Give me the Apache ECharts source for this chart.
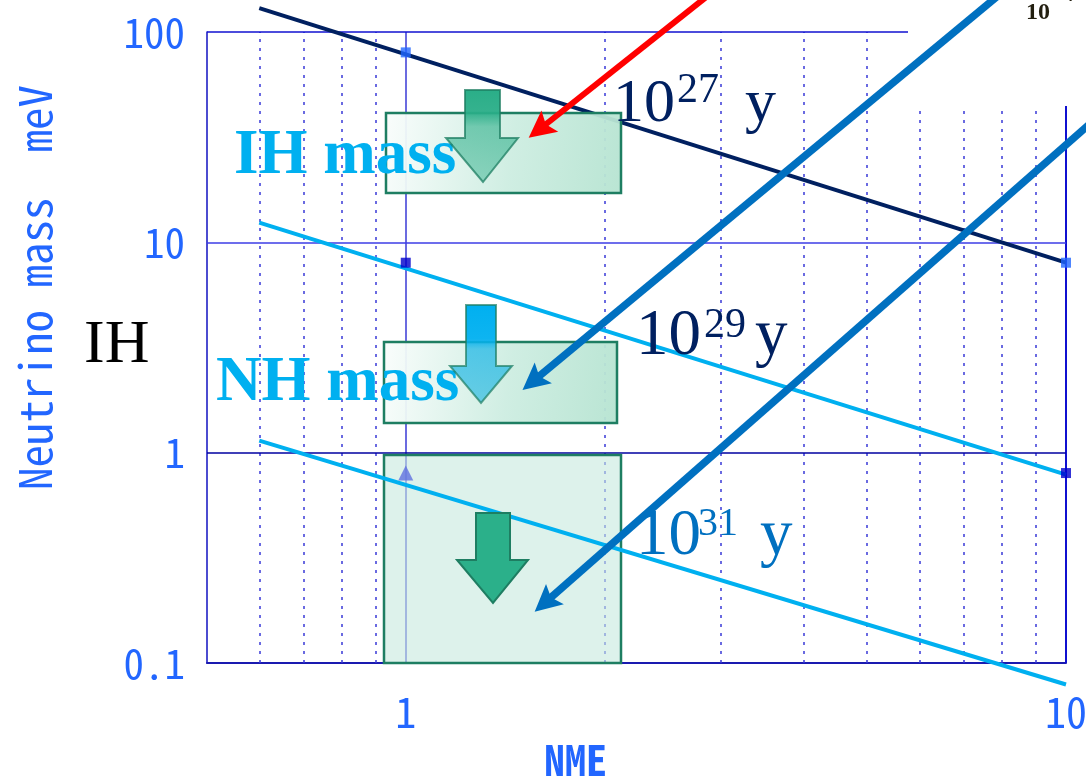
<!DOCTYPE html>
<html><head><meta charset="utf-8">
<script src="https://cdn.jsdelivr.net/npm/echarts@6/dist/echarts.min.js"></script>
<style>html,body{margin:0;padding:0;background:#fff;} #c{width:1086px;height:782px;}</style>
</head><body><div id="c"></div>
<script>
// ---- data ----
const nmeRange = [0.6, 10];          // NME extent of the half-life lines
const line27 = [130, 8.0];           // 10^27 y
const line29 = [12.4, 0.786];        // 10^29 y
const line31 = [1.14, 0.079];        // 10^31 y
const markNME = [1, 10];
const marks27 = [80, 8];
const marks29 = [8, 0.8];
const marks31 = [0.8];
const xTicks = [1, 10];
const yTicks = [0.1, 1, 10, 100];
const minorGridX = [0.6, 0.7, 0.8, 0.9, 2, 3, 4, 5, 6, 7, 8, 9];
const majorGridX = [1, 10];
const gridY = [100, 10, 1];
// annotation arrows [from, to] in data units (NME, meV); "to" is the arrowhead centre
const arrowTo29 = [[8.43, 176.7], [1.558, 2.18]];
const arrowTo31 = [[11.26, 40.3], [1.624, 0.193]];
const arrowRed  = [[3.006, 167.3], [1.593, 34.4]];

const monoFont = "'Noto Sans Mono CJK JP', 'Noto Sans CJK JP', monospace";
const serif = "'Liberation Serif', 'DejaVu Serif', serif";
const lblColor = '#2266ff';
const headPath = 'path://M12,0 L24,26 L12,21 L0,26 Z';

function fmt(ticks) {
  return function (v) {
    const t = ticks.find(t => Math.abs(Math.log10(t) - Math.log10(v)) < 1e-6);
    return t === undefined ? '' : String(t);
  };
}
function pair(xs, ys) { return xs.map((x, i) => [x, ys[i]]); }

const chart = echarts.init(document.getElementById('c'), null, {renderer: 'canvas'});

const gridLines = [];
minorGridX.forEach(v => gridLines.push({xAxis: v, lineStyle: {color: '#3a3ad8', width: 1.5, type: [3, 6]}}));
majorGridX.forEach((v, i) => gridLines.push({xAxis: v, lineStyle: {color: i === 0 ? '#6b6be0' : '#1010d0', width: 2, type: 'solid'}}));
const yLineColors = ['#1010d0', '#3c3ce6', '#0000a0'];
gridY.forEach((v, i) => gridLines.push({yAxis: v, lineStyle: {color: yLineColors[i], width: 1.5, type: 'solid'}}));

function arrowSeries(coords, color, width, size) {
  return {
    type: 'lines', coordinateSystem: 'cartesian2d', clip: false, z: 7, silent: true,
    symbol: ['none', headPath], symbolSize: [0, size], symbolKeepAspect: true,
    itemStyle: {color: color},
    lineStyle: {color: color, width: width, opacity: 1, curveness: 0},
    data: [{coords: coords}]
  };
}

const option = {
  animation: false,
  backgroundColor: '#fff',
  grid: {left: 207, top: 32, right: 20, bottom: 119, show: false, containLabel: false, outerBoundsMode: 'none'},
  xAxis: {
    type: 'log', logBase: 10, min: 0.5, max: 10,
    name: 'NME', nameLocation: 'middle', nameGap: 76,
    nameTextStyle: {fontFamily: monoFont, fontSize: 42, fontWeight: 'bold', color: lblColor, padding: [0, 122, 0, 0]},
    axisLine: {show: true, lineStyle: {color: '#1a1ab0', width: 2}},
    axisTick: {show: false}, splitLine: {show: false}, minorTick: {show: false},
    axisLabel: {formatter: fmt(xTicks), fontFamily: monoFont, fontSize: 42, color: lblColor, margin: 28, showMinLabel: true, showMaxLabel: true}
  },
  yAxis: {
    type: 'log', logBase: 10, min: 0.1, max: 100,
    name: 'Neutrino mass  meV', nameLocation: 'middle', nameRotate: 90, nameGap: 150,
    nameTextStyle: {fontFamily: monoFont, fontSize: 45, color: lblColor, padding: [0, 0, 0, 120]},
    axisLine: {show: true, lineStyle: {color: '#1010c0', width: 1.5}},
    axisTick: {show: false}, splitLine: {show: false},
    axisLabel: {formatter: fmt(yTicks), fontFamily: monoFont, fontSize: 41, color: lblColor, margin: 22}
  },
  series: [
    {type: 'line', data: [], z: 1, silent: true,
     markLine: {silent: true, z: 1, symbol: 'none', label: {show: false}, animation: false, data: gridLines}},
    {type: 'line', name: '10^27 y', data: pair(nmeRange, line27), clip: false, showSymbol: false, symbol: 'none', z: 3,
     lineStyle: {color: '#002060', width: 4}},
    {type: 'line', name: '10^29 y', data: pair(nmeRange, line29), clip: false, showSymbol: false, symbol: 'none', z: 3,
     lineStyle: {color: '#00b0f0', width: 4}},
    {type: 'line', name: '10^31 y', data: pair(nmeRange, line31), clip: false, showSymbol: false, symbol: 'none', z: 3,
     lineStyle: {color: '#00b0f0', width: 4}},
    {type: 'scatter', data: pair(markNME, marks27), symbol: 'rect', symbolSize: 10, clip: false, z: 4,
     itemStyle: {color: '#2266ff'}},
    {type: 'scatter', data: pair(markNME, marks29), symbol: 'rect', symbolSize: 10, clip: false, z: 4,
     itemStyle: {color: '#0000cc'}},
    {type: 'scatter', data: pair(markNME.slice(0, 1), marks31), symbol: 'triangle', symbolSize: 15, clip: false, z: 4,
     itemStyle: {color: '#6070e0'}},
    arrowSeries(arrowTo29, '#0070c0', 7.5, 27),
    arrowSeries(arrowTo31, '#0070c0', 7.5, 27),
    arrowSeries(arrowRed, '#ff0000', 6, 27)
  ],
  graphic: {elements: [
    // cover patch (top-right)
    {type: 'rect', z: 2, silent: true, shape: {x: 908, y: 0, width: 178, height: 106}, style: {fill: '#ffffff'}},
    // lower box (0.1-1)
    {type: 'rect', z: 2, silent: true, shape: {x: 384, y: 455, width: 237, height: 208},
     style: {fill: 'rgba(198,234,221,0.6)', stroke: '#1e7e62', lineWidth: 2.5}},
    // IH mass box
    {type: 'rect', z: 5, silent: true, shape: {x: 386, y: 113, width: 235, height: 80},
     style: {fill: new echarts.graphic.LinearGradient(0, 0, 1, 0.4, [
       {offset: 0, color: 'rgba(250,253,252,0.95)'}, {offset: 0.55, color: 'rgba(205,237,225,0.95)'}, {offset: 1, color: 'rgba(183,228,210,0.95)'}]),
       stroke: '#1e7e62', lineWidth: 2.5}},
    // NH mass box
    {type: 'rect', z: 5, silent: true, shape: {x: 384, y: 342, width: 233, height: 81},
     style: {fill: new echarts.graphic.LinearGradient(0, 0, 1, 0.4, [
       {offset: 0, color: 'rgba(250,253,252,0.95)'}, {offset: 0.55, color: 'rgba(205,237,225,0.95)'}, {offset: 1, color: 'rgba(183,228,210,0.95)'}]),
       stroke: '#1e7e62', lineWidth: 2.5}},
    // texts
    {type: 'text', z: 5, silent: true, x: 234, y: 157, style: {text: 'IH mass', font: 'bold 63px ' + serif, fill: '#00b0f0', align: 'left', verticalAlign: 'middle'}},
    {type: 'text', z: 5, silent: true, x: 216, y: 384, style: {text: 'NH mass', font: 'bold 63px ' + serif, fill: '#00b0f0', align: 'left', verticalAlign: 'middle'}},
    {type: 'text', z: 5, silent: true, x: 84, y: 346, style: {text: 'IH', font: '62px ' + serif, fill: '#000000', align: 'left', verticalAlign: 'middle'}},
    // block arrows
    {type: 'polygon', z: 6, silent: true,
     shape: {points: [[465, 90], [500, 90], [500, 138], [518, 138], [483, 182], [446, 138], [465, 138]]},
     style: {fill: new echarts.graphic.LinearGradient(0, 0, 0, 1, [
       {offset: 0, color: 'rgba(42,174,136,1)'}, {offset: 0.25, color: 'rgba(42,174,136,0.95)'}, {offset: 0.4, color: 'rgba(42,174,136,0.6)'}, {offset: 1, color: 'rgba(42,174,136,0.45)'}]),
       stroke: 'rgba(30,126,98,0.75)', lineWidth: 2}},
    {type: 'polygon', z: 6, silent: true,
     shape: {points: [[466, 305], [496, 305], [496, 366], [512, 366], [481, 403], [450, 366], [466, 366]]},
     style: {fill: new echarts.graphic.LinearGradient(0, 0, 0, 1, [
       {offset: 0, color: 'rgba(0,176,240,1)'}, {offset: 0.35, color: 'rgba(0,176,240,0.95)'}, {offset: 0.45, color: 'rgba(20,180,230,0.7)'}, {offset: 1, color: 'rgba(40,185,225,0.65)'}]),
       stroke: 'rgba(30,126,98,0.7)', lineWidth: 2}},
    {type: 'polygon', z: 6, silent: true,
     shape: {points: [[476, 513], [510, 513], [510, 560], [528, 560], [493, 603], [457, 560], [476, 560]]},
     style: {fill: '#2bb08a', stroke: '#1e7e62', lineWidth: 2}},
    // half-life labels
    {type: 'text', z: 8, silent: true, x: 613, y: 105, style: {text: '10', font: '62px ' + serif, fill: '#002060', verticalAlign: 'middle'}},
    {type: 'text', z: 8, silent: true, x: 677, y: 91, style: {text: '27', font: '42px ' + serif, fill: '#002060', verticalAlign: 'middle'}},
    {type: 'text', z: 8, silent: true, x: 745, y: 105, style: {text: 'y', font: '62px ' + serif, fill: '#002060', verticalAlign: 'middle'}},
    {type: 'text', z: 8, silent: true, x: 636, y: 337, style: {text: '10', font: '65px ' + serif, fill: '#002060', verticalAlign: 'middle'}},
    {type: 'text', z: 8, silent: true, x: 704, y: 326, style: {text: '29', font: '42px ' + serif, fill: '#002060', verticalAlign: 'middle'}},
    {type: 'text', z: 8, silent: true, x: 755, y: 337, style: {text: 'y', font: '65px ' + serif, fill: '#002060', verticalAlign: 'middle'}},
    {type: 'text', z: 8, silent: true, x: 636, y: 537, style: {text: '10', font: '65px ' + serif, fill: '#0070c0', verticalAlign: 'middle'}},
    {type: 'text', z: 8, silent: true, x: 698, y: 524, style: {text: '31', font: '40px ' + serif, fill: '#0070c0', verticalAlign: 'middle'}},
    {type: 'text', z: 8, silent: true, x: 760, y: 537, style: {text: 'y', font: '65px ' + serif, fill: '#0070c0', verticalAlign: 'middle'}},
    // clipped fragment at top right
    {type: 'text', z: 8, silent: true, x: 1026, y: 13, style: {text: '10', font: 'bold 24px ' + serif, fill: '#231f10', verticalAlign: 'middle'}},
    {type: 'text', z: 8, silent: true, x: 1056, y: -3, style: {text: '−4', font: 'bold 16px ' + serif, fill: '#231f10', verticalAlign: 'middle'}}
  ]}
};
chart.setOption(option);
</script>
</body></html>
